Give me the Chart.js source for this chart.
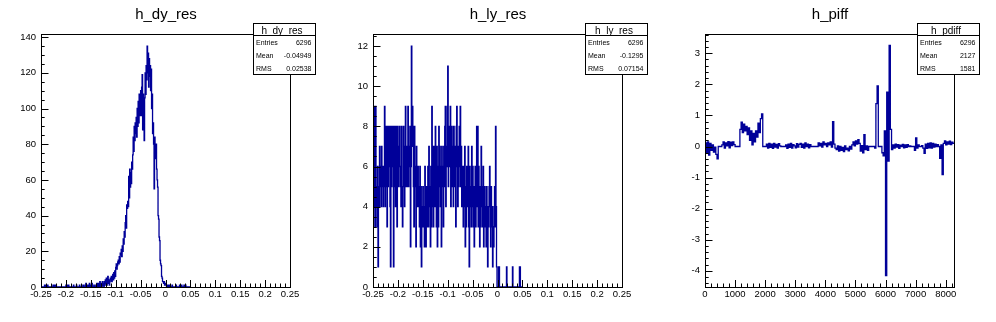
<!DOCTYPE html>
<html><head><meta charset="utf-8">
<script src="https://cdn.jsdelivr.net/npm/chart.js@4.4.1/dist/chart.umd.min.js"></script>
<style>
html,body{margin:0;padding:0;background:#fff;width:996px;height:322px;overflow:hidden}
canvas.pad{position:absolute;top:0;width:332px;height:322px}
</style></head><body>
<canvas id="c1" class="pad" style="left:0px" width="332" height="322"></canvas>
<canvas id="c2" class="pad" style="left:332px" width="332" height="322"></canvas>
<canvas id="c3" class="pad" style="left:664px" width="332" height="322"></canvas>
<script>
// ---------- h_dy_res : bins of 0.001 starting at -0.25 ----------
const dyResStart = -0.25;
const dyResWidth = 0.001;
const dyResCounts = [
 0,0,0,0,0,0,0,1,1,0,
 0,0,0,1,0,0,0,0,0,0,
 0,0,0,0,1,0,0,1,0,0,
 1,0,0,0,0,0,0,0,0,0,
 0,0,0,0,0,0,0,0,0,0,
 1,0,1,0,0,1,0,0,0,0,
 0,0,0,0,0,1,0,0,0,0,
 0,1,0,0,0,0,0,1,0,0,
 0,0,0,0,1,0,0,0,1,0,
 2,0,1,0,0,1,0,2,0,0,
 1,0,2,0,0,0,1,0,0,0,
 1,0,2,1,0,2,0,1,3,0,
 1,2,0,3,1,2,0,3,1,4,
 2,5,1,3,6,2,4,1,3,5,
 4,6,3,5,7,4,8,5,9,6,
 11,13,10,12,14,15,13,17,14,19,
 18,21,17,23,20,27,24,31,28,36,
 40,33,46,44,48,45,62,50,66,56,
 64,58,70,66,74,84,76,90,82,92,
 86,95,84,100,90,104,92,108,96,100,
 110,96,112,119,88,108,94,82,106,120,
 108,124,116,135,120,131,112,128,118,124,
 110,122,100,108,86,92,80,55,84,74,
 72,80,66,60,56,40,38,28,26,15,
 13,12,6,5,3,3,2,3,1,2,
 1,1,0,1,0,0,1,1,0,0,
 0,0,0,1,0,0,0,0,0,0,
 0,1,0,0,0,0,0,0,1,0,
 1,0,1,0,0,0,0,1,0,0,
 1,0,0,0,0,0,0,0,0,0
];
const dyResStats = [["Entries","6296"],["Mean","-0.04949"],["RMS","0.02538"]];

// ---------- h_ly_res : bins of 0.001 starting at -0.25 ----------
const lyResStart = -0.25;
const lyResWidth = 0.001;
const lyResCounts = [
 3,5,4,9,3,9,4,5,3,6,
 1,5,4,7,5,6,4,7,5,6,
 4,6,5,9,4,6,8,5,3,8,
 5,8,6,8,4,1,8,5,7,8,
 6,1,8,5,8,4,6,8,3,8,
 5,7,6,8,5,6,4,8,5,3,
 5,8,6,4,7,9,5,7,6,5,
 9,5,7,6,8,2,6,12,7,9,
 8,5,3,8,6,5,2,7,4,5,
 6,4,5,3,6,2,5,1,4,3,
 5,3,4,2,6,3,2,5,4,3,
 6,3,7,4,5,2,6,3,9,4,
 7,3,5,7,4,8,5,3,7,2,
 6,3,8,5,7,4,6,2,7,5,
 6,3,7,5,8,9,4,7,6,9,
 11,5,8,6,7,9,4,6,8,5,
 7,4,8,6,5,7,3,8,9,6,
 4,7,5,8,6,9,5,7,4,6,
 5,3,6,4,7,2,5,3,6,4,
 5,7,3,1,6,4,5,3,7,4,
 6,3,5,2,4,6,3,5,8,4,
 8,3,6,4,2,5,3,7,4,5,
 3,6,2,4,5,3,4,2,5,3,
 1,4,3,5,6,4,2,5,3,4,
 1,3,2,4,5,3,8,4,1,0,
 0,0,1,1,0,0,0,0,0,0,
 0,0,0,0,0,0,0,0,1,0,
 0,0,0,0,0,0,0,0,0,0,
 1,0,0,0,0,0,0,0,0,0,
 0,0,0,0,1,1,0,0,0,0
];
const lyResStats = [["Entries","6296"],["Mean","-0.1295"],["RMS","0.07154"]];

// ---------- h_pdiff : bins of 40 starting at 0 ----------
const pdiffStart = 0;
const pdiffWidth = 40;
const pdiffValues = [
 0.12,-0.2,0.15,-0.28,0.1,-0.12,0.05,-0.18,-0.02,-0.25,-0.4,
 0,0,0,
 0.05,0.15,-0.05,0.12,0.02,0.16,-0.04,0.14,0.03,0.15,0.06,
 0,0,0,0,
 0.55,0.78,0.45,0.72,0.5,0.65,0.38,0.6,0.2,0.5,0.05,0.42,0.15,0.5,0.3,0.75,0.45,0.9,1.05,
 0,0,0,
 0.08,-0.05,0.1,-0.03,0.08,-0.06,0.1,-0.02,0.07,-0.05,0.09,0.02,
 0,0,0,0,
 0.05,-0.06,0.08,-0.03,0.1,-0.05,0.06,0.02,-0.04,0.09,-0.02,0.07,0.1,-0.03,0.08,-0.05,0.12,0.0,0.08,-0.04,0.06,
 0,0,0,0,0,0,
 0.12,0.02,0.1,-0.02,0.15,0.05,0.1,0.0,0.12,0.05,0.15,-0.02,0.8,0.08,-0.05,
 -0.1,0.02,-0.15,0.0,-0.12,-0.03,-0.16,0.02,-0.1,-0.05,-0.14,0.0,-0.08,
 0.05,0.15,0.02,0.18,0.08,0.22,0.1,
 -0.15,0.03,-0.2,0.38,-0.1,0.02,-0.12,
 0,0,0,0,0,
 -0.05,1.38,1.95,
 0,0,0,
 -0.2,-0.3,0.5,-4.15,1.75,-0.47,3.25,0.55,-0.1,
 0.05,-0.05,0.08,-0.02,0.06,-0.06,0.04,0.0,0.07,-0.04,0.05,-0.03,0.06,0.0,0.02,
 0,0,0,
 -0.12,0.28,-0.05,0.05,
 0,0,
 0.03,-0.05,-0.22,0.08,-0.06,0.1,-0.04,0.12,-0.05,0.1,-0.02,0.08,0.0,0.06,
 0,
 -0.38,0.05,-0.9,
 0.1,0.18,0.05,0.15,0.08,0.17,0.06,0.14,0.1
];
const pdiffStats = [["Entries","6296"],["Mean","2127"],["RMS","1581"]];

const FONT = "'Liberation Sans', Arial, Helvetica, sans-serif";
const LINE = '#000099';

function binPoints(start, width, values) {
  const pts = values.map((v, i) => ({ x: start + i * width, y: v }));
  pts.push({ x: start + values.length * width, y: values[values.length - 1] });
  return pts;
}

function fmtDec(v) {
  const r = Math.round(v * 1000) / 1000;
  return (r === 0 ? 0 : r).toString();
}

// ticks on whole multiples of the step inside [min, max]
function stepTicks(step) {
  return function (scale) {
    const out = [];
    for (let k = Math.ceil(scale.min / step - 1e-6); k * step <= scale.max + 1e-9; k++) {
      out.push({ value: Math.round(k * step * 1e6) / 1e6 });
    }
    scale.ticks = out;
  };
}

function makePad(id, spec) {
  const deco = {
    id: 'rootDeco',
    afterDraw(chart) {
      const ctx = chart.ctx, a = chart.chartArea;
      const xs = chart.scales.x, ys = chart.scales.y;
      const L = Math.round(a.left), R = Math.round(a.right), T = Math.round(a.top), B = Math.round(a.bottom);
      ctx.save();
      ctx.strokeStyle = '#000';
      ctx.lineWidth = 1;
      ctx.beginPath();
      for (let k = Math.ceil(xs.min / spec.xMinor - 1e-6); k * spec.xMinor <= xs.max + 1e-9; k++) {
        const v = k * spec.xMinor;
        const q = v / spec.xStep;
        const major = Math.abs(q - Math.round(q)) < 1e-6;
        const px = Math.round(xs.getPixelForValue(v)) + 0.5;
        ctx.moveTo(px, B);
        ctx.lineTo(px, B - (major ? 7 : 3.5));
      }
      for (let k = Math.ceil(ys.min / spec.yMinor - 1e-6); k * spec.yMinor <= ys.max + 1e-9; k++) {
        const v = k * spec.yMinor;
        const q = v / spec.yStep;
        const major = Math.abs(q - Math.round(q)) < 1e-6;
        const py = Math.round(ys.getPixelForValue(v)) + 0.5;
        ctx.moveTo(L, py);
        ctx.lineTo(L + (major ? 7.5 : 3.7), py);
      }
      ctx.stroke();
      ctx.strokeRect(L + 0.5, T + 0.5, R - L, B - T);
      ctx.fillStyle = '#000';
      ctx.font = '15px ' + FONT;
      ctx.textAlign = 'center';
      ctx.textBaseline = 'alphabetic';
      ctx.fillText(spec.title, 166, 18.5);
      const bx = 253, by = 23, bw = 62, bh = 51;
      ctx.fillStyle = '#fff';
      ctx.fillRect(bx, by, bw, bh);
      ctx.strokeRect(bx + 0.5, by + 0.5, bw, bh);
      ctx.beginPath();
      ctx.moveTo(bx, 35.5);
      ctx.lineTo(bx + bw, 35.5);
      ctx.stroke();
      ctx.fillStyle = '#000';
      ctx.font = '10px ' + FONT;
      ctx.textAlign = 'center';
      ctx.fillText(spec.statsTitle, 282, 33.5);
      ctx.font = '7px ' + FONT;
      const rowsY = [45, 58, 70.5];
      spec.stats.forEach((row, i) => {
        ctx.textAlign = 'left';
        ctx.fillText(row[0], 256, rowsY[i]);
        ctx.textAlign = 'right';
        ctx.fillText(row[1], 311.5, rowsY[i]);
      });
      ctx.restore();
    }
  };

  return new Chart(document.getElementById(id), {
    type: 'line',
    data: {
      datasets: [{
        data: binPoints(spec.start, spec.width, spec.values),
        stepped: true,
        borderColor: LINE,
        borderWidth: 1.3,
        pointRadius: 0,
        fill: false,
        tension: 0
      }]
    },
    options: {
      responsive: false,
      animation: false,
      devicePixelRatio: 1,
      events: [],
      layout: { autoPadding: false, padding: { top: 34, right: 42, bottom: 0, left: 0 } },
      plugins: { legend: { display: false }, tooltip: { enabled: false }, title: { display: false } },
      scales: {
        x: {
          type: 'linear', min: spec.xMin, max: spec.xMax,
          grid: { display: false, drawTicks: false },
          border: { display: false },
          afterBuildTicks: stepTicks(spec.xStep),
          ticks: {
            autoSkip: false, maxRotation: 0,
            padding: 2, color: '#000', font: { family: FONT, size: 9.5 },
            callback: spec.xFmt
          },
          afterFit(s) { s.height = 35; }
        },
        y: {
          type: 'linear', min: spec.yMin, max: spec.yMax,
          grid: { display: false, drawTicks: false },
          border: { display: false },
          afterBuildTicks: stepTicks(spec.yStep),
          ticks: {
            autoSkip: false,
            padding: 5, color: '#000', font: { family: FONT, size: 9.5 },
            callback: spec.yFmt
          },
          afterFit(s) { s.width = 41; }
        }
      }
    },
    plugins: [deco]
  });
}

const intFmt = v => String(Math.round(v));

makePad('c1', {
  title: 'h_dy_res', statsTitle: 'h_dy_res', stats: dyResStats,
  start: dyResStart, width: dyResWidth, values: dyResCounts,
  xMin: -0.25, xMax: 0.25, xStep: 0.05, xMinor: 0.01, xFmt: fmtDec,
  yMin: 0, yMax: 141.75, yStep: 20, yMinor: 5, yFmt: intFmt
});
makePad('c2', {
  title: 'h_ly_res', statsTitle: 'h_ly_res', stats: lyResStats,
  start: lyResStart, width: lyResWidth, values: lyResCounts,
  xMin: -0.25, xMax: 0.25, xStep: 0.05, xMinor: 0.01, xFmt: fmtDec,
  yMin: 0, yMax: 12.6, yStep: 2, yMinor: 0.5, yFmt: intFmt
});
makePad('c3', {
  title: 'h_piff', statsTitle: 'h_pdiff', stats: pdiffStats,
  start: pdiffStart, width: pdiffWidth, values: pdiffValues,
  xMin: 0, xMax: 8276, xStep: 1000, xMinor: 200, xFmt: intFmt,
  yMin: -4.52, yMax: 3.62, yStep: 1, yMinor: 0.2, yFmt: intFmt
});
</script>
</body></html>
